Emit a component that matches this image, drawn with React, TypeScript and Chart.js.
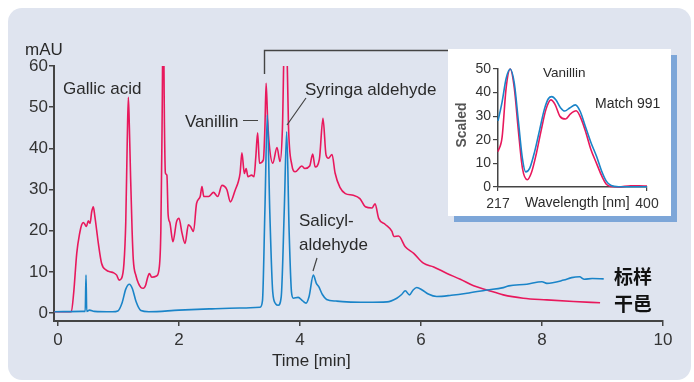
import React, { useEffect, useRef } from 'react';
import { Chart, registerables } from 'chart.js';

Chart.register(...registerables);

// ---------- main chromatogram data ----------
const xTickValues = [0, 2, 4, 6, 8, 10];
const yTickValues = [0, 10, 20, 30, 40, 50, 60];

const cognacTime = [
  -0.06, 0.22, 0.26, 0.31, 0.36, 0.39, 0.42, 0.446, 0.47, 0.5, 0.53, 0.557, 0.584, 0.61, 0.64, 0.667,
  0.72, 0.8, 0.86, 0.915, 0.97, 1.01, 1.05, 1.09, 1.12, 1.145, 1.163, 1.18, 1.2, 1.225, 1.245, 1.29,
  1.33, 1.37, 1.41, 1.45, 1.477, 1.51, 1.55, 1.63, 1.675, 1.7, 1.72, 1.74, 1.76, 1.775, 1.8, 1.82,
  1.85, 1.9, 1.96, 2.0, 2.05, 2.1, 2.155, 2.19, 2.24, 2.29, 2.35, 2.38, 2.41, 2.49, 2.57, 2.64,
  2.71, 2.79, 2.85, 2.93, 2.98, 3.01, 3.04, 3.08, 3.11, 3.14, 3.2, 3.24, 3.27, 3.3, 3.33, 3.395,
  3.42, 3.44, 3.465, 3.49, 3.55, 3.62, 3.67, 3.71, 3.75, 3.79, 3.81, 3.865, 3.92, 4.03, 4.08, 4.16,
  4.21, 4.25, 4.32, 4.38, 4.43, 4.47, 4.53, 4.58, 4.66, 4.75, 4.88, 4.99, 5.08, 5.19, 5.24, 5.3,
  5.41, 5.52, 5.55, 5.63, 5.74, 5.88, 6.04, 6.21, 6.43, 6.65, 6.87, 7.09, 7.36, 7.69, 8.08, 8.52,
  8.96,
];
const cognacAbs = [
  0.3, 0.3, 5, 14.5, 19.5, 21.4, 22.0, 21.5, 21, 22.4, 21.8, 24.6, 25.8, 23.4, 20, 16.9,
  12.1, 10.4, 10.0, 9.8, 9.2, 8.0, 8.4, 12, 22, 42, 52.4, 45, 33, 20, 12.9, 9,
  7.2, 6.2, 6.0, 6.8, 8.4, 9.6, 8.7, 9.0, 11.2, 20, 45, 75, 45, 34.0, 33.5, 24,
  21.9, 17.3, 22.2, 23, 19.4, 16.9, 21.4, 21.0, 19.8, 26.6, 28.3, 30.7, 28.3, 28.3, 29.3, 28.3,
  31.0, 30.0, 27.0, 29.9, 31.9, 34, 38.9, 33.9, 35.1, 33.1, 33.5, 33.1, 38, 43.8, 36.4, 37.2,
  45, 55.8, 47, 41.2, 36.4, 40.2, 36.8, 45, 72, 60, 45.3, 36, 34.3, 35.7, 35.1, 35.7,
  38.6, 35.5, 37.3, 47.3, 38.4, 37.6, 38.5, 34, 30.5, 29, 28.6, 27.8, 25.8, 25.5, 26.5, 23,
  21.5, 19.8, 18.6, 18.7, 16.1, 14.5, 12.1, 11.2, 9.6, 8.2, 6.6, 5.6, 4.4, 3.6, 3.2, 2.8,
  2.5,
];

const standardTime = [
  -0.06, 0.4, 0.45, 0.463, 0.475, 0.52, 0.6, 0.9, 0.99, 1.06, 1.12, 1.18, 1.23, 1.29, 1.37, 1.5,
  2.0, 2.5, 3.0, 3.34, 3.38, 3.42, 3.46, 3.5, 3.55, 3.6, 3.64, 3.69, 3.74, 3.78, 3.82, 3.86,
  3.89, 3.97, 4.04, 4.1, 4.15, 4.22, 4.27, 4.31, 4.37, 4.44, 4.6, 4.77, 5.1, 5.44, 5.6, 5.68,
  5.74, 5.81, 5.87, 5.93, 6.02, 6.12, 6.26, 6.5, 6.76, 7.09, 7.34, 7.45, 7.75, 8.0, 8.08, 8.36,
  8.49, 8.62, 8.7, 8.83, 9.02,
];
const standardAbs = [
  0.3, 0.4, 0.4, 9.2, 0.4, 0.7, 0.4, 0.3, 0.5, 2.5, 5.8, 7.0, 5.9, 2.8, 0.6, 0.3,
  0.7, 1.0, 1.2, 1.4, 3, 25, 48.1, 25, 5, 2.2, 1.9, 4, 25, 44.0, 20, 5,
  3.6, 3.8, 3.0, 2.4, 4, 9.2, 7.2, 6.4, 4.5, 3.3, 2.9, 2.7, 2.6, 2.7, 3.6, 4.5,
  5.4, 4.4, 5.6, 6.2, 5.6, 4.6, 4.0, 4.3, 4.8, 5.6, 6.1, 6.6, 7.0, 7.6, 7.2, 8.0,
  8.6, 8.8, 8.2, 8.4, 8.3,
];

// ---------- inset UV spectra (Vanillin) ----------
const insetXTickValues = [217, 400];
const insetYTickValues = [0, 10, 20, 30, 40, 50];

const specStdNm = [217, 222, 227, 232, 237, 242, 247, 251, 256, 262, 268, 274, 279, 283, 288, 294, 299, 305, 312, 318, 324, 331, 338, 344, 350, 356, 365, 380, 400];
const specStdVal = [28, 36, 46, 50, 44, 28, 12, 6.4, 8, 15, 24, 33, 37.5, 38.3, 37, 33.5, 32.2, 33.5, 34.8, 32, 26, 19, 13, 7, 2.5, 0.6, 0.1, 0.1, 0.1];
const specSampleNm = [217, 222, 227, 232, 237, 242, 247, 253, 258, 264, 270, 276, 282, 287, 293, 300, 306, 313, 319, 325, 331, 338, 344, 350, 356, 365, 380, 390, 400];
const specSampleVal = [15, 21, 42, 50, 42, 24, 8, 3.1, 6, 14, 24, 33, 36.9, 35, 30, 28.8, 31, 32.3, 29, 23, 16, 10, 5, 1.2, 0.2, 0, 0.5, 0.5, 0.4];

const RED = '#e8185c';
const BLUE = '#1a84c8';
const AXIS = '#444444';
const TEXT = '#2a2a2a';
const FONT = '"Liberation Sans", Arial, sans-serif';

const toXY = (xs: number[], ys: number[]) => xs.map((x, i) => ({ x, y: ys[i] }));

const mainDecor = {
  id: 'mainDecor',
  beforeDraw(chart: any) {
    const ctx = chart.ctx;
    ctx.save();
    ctx.fillStyle = '#dfe4ef';
    ctx.beginPath();
    (ctx as any).roundRect(8, 8, 683, 372, 14);
    ctx.fill();
    ctx.restore();
  },
  afterDraw(chart: any) {
    const ctx = chart.ctx;
    ctx.save();
    ctx.fillStyle = TEXT;
    ctx.textBaseline = 'alphabetic';
    ctx.textAlign = 'left';
    ctx.font = `17px ${FONT}`;
    ctx.fillText('mAU', 25, 55);
    ctx.fillText('Gallic acid', 63, 94);
    ctx.fillText('Vanillin', 185, 127);
    ctx.fillText('Syringa aldehyde', 305, 95);
    ctx.fillText('Salicyl-', 299, 226);
    ctx.fillText('aldehyde', 299, 250);
    ctx.fillText('Time [min]', 272, 366);

    ctx.strokeStyle = AXIS;
    ctx.lineWidth = 1.2;
    ctx.beginPath();
    ctx.moveTo(243, 120.5); ctx.lineTo(258, 120.5);
    ctx.moveTo(287, 125); ctx.lineTo(306, 98);
    ctx.moveTo(313, 271); ctx.lineTo(317, 258);
    ctx.stroke();

    ctx.lineWidth = 1.4;
    ctx.beginPath();
    ctx.moveTo(264.5, 74); ctx.lineTo(264.5, 50.5); ctx.lineTo(450, 50.5);
    ctx.stroke();

    ctx.fillStyle = '#111';
    ctx.font = `bold 19px "Noto Sans CJK SC", sans-serif`;
    ctx.textBaseline = 'middle';
    ctx.fillText('标样', 614, 277);
    ctx.fillText('干邑', 614, 304);
    ctx.restore();
  },
};

const insetDecor = {
  id: 'insetDecor',
  afterDraw(chart: any) {
    const ctx = chart.ctx;
    ctx.save();
    ctx.fillStyle = TEXT;
    ctx.textBaseline = 'alphabetic';
    ctx.textAlign = 'left';
    ctx.font = `13.5px ${FONT}`;
    ctx.fillText('Vanillin', 95, 28);
    ctx.font = `14px ${FONT}`;
    ctx.fillText('Match 991', 147, 59);
    ctx.fillText('Wavelength [nm]', 77, 158);
    ctx.translate(14, 76);
    ctx.rotate(-Math.PI / 2);
    ctx.textAlign = 'center';
    ctx.textBaseline = 'middle';
    ctx.fillStyle = '#555';
    ctx.font = `bold 14px ${FONT}`;
    ctx.fillText('Scaled', 0, 0);
    ctx.restore();
  },
};

export default function App() {
  const mainRef = useRef<HTMLCanvasElement>(null);
  const insetRef = useRef<HTMLCanvasElement>(null);

  useEffect(() => {
    const main = new Chart(mainRef.current as HTMLCanvasElement, {
      type: 'line',
      data: {
        datasets: [
          {
            label: '标样',
            data: toXY(standardTime, standardAbs),
            borderColor: BLUE,
            borderWidth: 1.6,
            pointRadius: 0,
            cubicInterpolationMode: 'monotone',
          },
          {
            label: '干邑',
            data: toXY(cognacTime, cognacAbs),
            borderColor: RED,
            borderWidth: 1.6,
            pointRadius: 0,
            cubicInterpolationMode: 'monotone',
          },
        ],
      },
      options: {
        animation: false,
        responsive: false,
        devicePixelRatio: 1,
        layout: { padding: { top: 66, right: 31, left: 0, bottom: 0 } },
        plugins: { legend: { display: false }, tooltip: { enabled: false } },
        scales: {
          x: {
            type: 'linear',
            min: -0.066,
            max: 10,
            afterBuildTicks: (s: any) => { s.ticks = xTickValues.map((v) => ({ value: v })); },
            afterFit: (s: any) => { s.height = 61; },
            border: { color: AXIS, width: 2 },
            grid: { drawOnChartArea: false, tickLength: 5, color: AXIS, lineWidth: 1.5 },
            ticks: { color: '#333', padding: 4, font: { family: FONT, size: 17 } },
          },
          y: {
            type: 'linear',
            min: -1.94,
            max: 60,
            afterBuildTicks: (s: any) => { s.ticks = yTickValues.map((v) => ({ value: v })); },
            afterFit: (s: any) => { s.width = 54; },
            border: { color: AXIS, width: 2 },
            grid: { drawOnChartArea: false, tickLength: 5, color: AXIS, lineWidth: 1.5 },
            ticks: { color: '#333', padding: 1, font: { family: FONT, size: 17 } },
          },
        },
      },
      plugins: [mainDecor],
    } as any);

    const inset = new Chart(insetRef.current as HTMLCanvasElement, {
      type: 'line',
      data: {
        datasets: [
          {
            label: 'Standard',
            data: toXY(specStdNm, specStdVal),
            borderColor: BLUE,
            borderWidth: 1.6,
            pointRadius: 0,
            cubicInterpolationMode: 'monotone',
            clip: false,
          },
          {
            label: 'Sample',
            data: toXY(specSampleNm, specSampleVal),
            borderColor: RED,
            borderWidth: 1.6,
            pointRadius: 0,
            cubicInterpolationMode: 'monotone',
            clip: false,
          },
        ],
      },
      options: {
        animation: false,
        responsive: false,
        devicePixelRatio: 1,
        layout: { padding: { top: 20, right: 24, left: 0, bottom: 0 } },
        plugins: { legend: { display: false }, tooltip: { enabled: false } },
        scales: {
          x: {
            type: 'linear',
            min: 217,
            max: 400,
            afterBuildTicks: (s: any) => { s.ticks = insetXTickValues.map((v) => ({ value: v })); },
            afterFit: (s: any) => { s.height = 29; },
            border: { color: AXIS, width: 1.5 },
            grid: { drawOnChartArea: false, tickLength: 4, color: AXIS, lineWidth: 1.2 },
            ticks: { color: '#333', padding: 5, font: { family: FONT, size: 14 } },
          },
          y: {
            type: 'linear',
            min: 0,
            max: 50,
            afterBuildTicks: (s: any) => { s.ticks = insetYTickValues.map((v) => ({ value: v })); },
            afterFit: (s: any) => { s.width = 50; },
            border: { color: AXIS, width: 1.5 },
            grid: { drawOnChartArea: false, tickLength: 5, color: AXIS, lineWidth: 1.2 },
            ticks: { color: '#333', padding: 2, font: { family: FONT, size: 14 } },
          },
        },
      },
      plugins: [insetDecor],
    } as any);

    return () => {
      main.destroy();
      inset.destroy();
    };
  }, []);

  return (
    <div style={{ position: 'absolute', left: 0, top: 0, width: 694, height: 382 }}>
      <canvas
        ref={mainRef}
        width={694}
        height={382}
        style={{ position: 'absolute', left: 0, top: 0, width: 694, height: 382 }}
      />
      <canvas
        ref={insetRef}
        width={223}
        height={167}
        style={{
          position: 'absolute',
          left: 448,
          top: 49,
          width: 223,
          height: 167,
          background: '#ffffff',
          boxShadow: '6px 6px 0 #7da6d8',
        }}
      />
    </div>
  );
}
